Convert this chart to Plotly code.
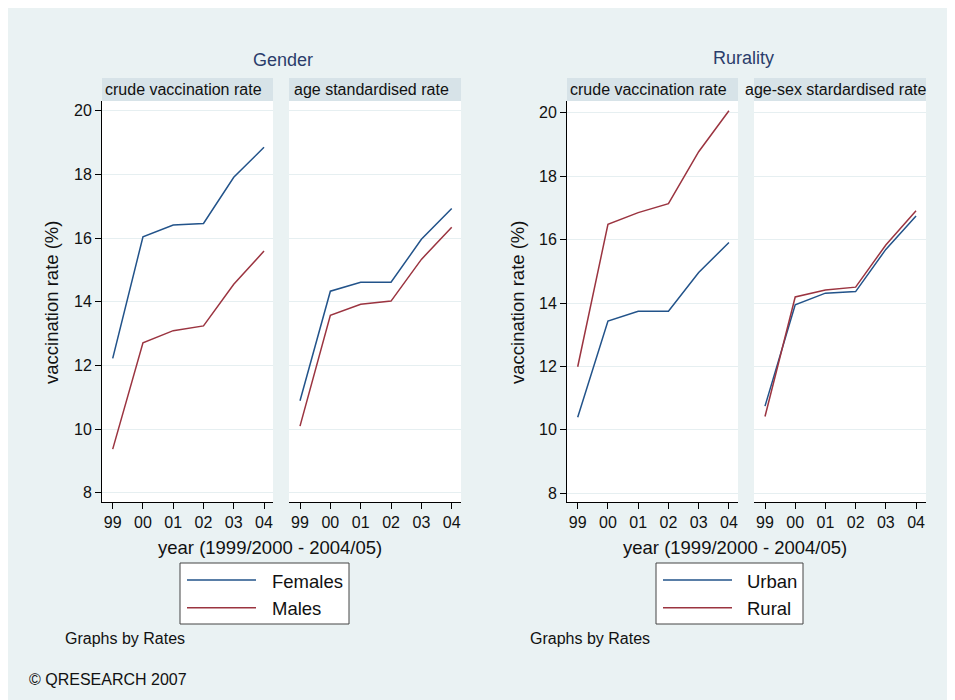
import plotly.graph_objects as go

# ---------------- data ----------------
years = ["99", "00", "01", "02", "03", "04"]
y_ticks = [8, 10, 12, 14, 16, 18, 20]

females_crude = [12.22, 16.04, 16.41, 16.46, 17.91, 18.85]
males_crude = [9.37, 12.71, 13.09, 13.24, 14.55, 15.59]
females_std = [10.89, 14.33, 14.61, 14.61, 15.96, 16.93]
males_std = [10.09, 13.57, 13.92, 14.02, 15.33, 16.34]

urban_crude = [10.40, 13.43, 13.74, 13.74, 14.96, 15.91]
rural_crude = [11.99, 16.48, 16.85, 17.13, 18.77, 20.06]
urban_std = [10.75, 13.94, 14.31, 14.36, 15.69, 16.74]
rural_std = [10.42, 14.19, 14.41, 14.50, 15.83, 16.91]

group_titles = ["Gender", "Rurality"]
strip_labels = ["crude vaccination rate", "age standardised rate",
                "crude vaccination rate", "age-sex stardardised rate"]
legend_left = ["Females", "Males"]
legend_right = ["Urban", "Rural"]
x_title = "year (1999/2000 - 2004/05)"
y_title = "vaccination rate (%)"
note = "Graphs by Rates"
credit = "© QRESEARCH 2007"

# ---------------- style ----------------
W, H = 955, 700
OFF = 8  # page margin around the figure
BG = "#EAF2F3"
STRIP = "#D7E3E8"
GRID = "#E6EFF1"
NAVY = "#22538A"
MAROON = "#9B3440"
TITLE_C = "#2B3D6B"
FONT = "Liberation Sans, Arial, Helvetica, sans-serif"


def px(x):
    return (x - OFF) / W


def py(y):
    return 1 - (y - OFF) / H


panels_x = [(102, 273), (289, 461), (567, 738), (754, 926)]
plot_top, plot_bot = 101, 502
y_ranges = [[7.708, 20.305], [7.708, 20.305], [7.726, 20.369], [7.726, 20.369]]
x_ranges = [[-0.354, 5.297], [-0.363, 5.306], [-0.354, 5.30], [-0.364, 5.33]]

fig = go.Figure()

series = [
    (1, females_crude, NAVY, legend_left[0]), (1, males_crude, MAROON, legend_left[1]),
    (2, females_std, NAVY, legend_left[0]), (2, males_std, MAROON, legend_left[1]),
    (3, urban_crude, NAVY, legend_right[0]), (3, rural_crude, MAROON, legend_right[1]),
    (4, urban_std, NAVY, legend_right[0]), (4, rural_std, MAROON, legend_right[1]),
]
for i, vals, col, name in series:
    sfx = "" if i == 1 else str(i)
    fig.add_trace(go.Scatter(
        x=years, y=vals, mode="lines", name=name, showlegend=False,
        line=dict(color=col, width=1.5),
        xaxis="x" + sfx, yaxis="y" + sfx,
    ))

layout = dict(
    width=W, height=H,
    margin=dict(l=0, r=0, t=0, b=0),
    paper_bgcolor=BG,
    plot_bgcolor="white",
    font=dict(family=FONT, size=16, color="#111"),
    showlegend=False,
)

for k in range(4):
    sfx = "" if k == 0 else str(k + 1)
    x0, x1 = panels_x[k]
    has_y = k in (0, 2)
    layout["xaxis" + sfx] = dict(
        domain=[px(x0), px(x1)], type="category",
        range=x_ranges[k], anchor="y" + sfx,
        showline=True, linecolor="black", linewidth=1,
        ticks="outside", ticklen=6, tickcolor="black", tickwidth=1,
        showgrid=False, zeroline=False,
        tickfont=dict(size=16, color="#111", family=FONT),
    )
    layout["yaxis" + sfx] = dict(
        domain=[py(plot_bot), py(plot_top)], anchor="x" + sfx,
        range=y_ranges[k], tickvals=y_ticks,
        showline=has_y, linecolor="black", linewidth=1,
        ticks="outside" if has_y else "", ticklen=6, tickcolor="black",
        showticklabels=has_y,
        showgrid=True, gridcolor=GRID, gridwidth=1, zeroline=False,
        tickfont=dict(size=16, color="#111", family=FONT),
    )

shapes = []
annotations = []

for k in range(4):
    sfx = "" if k == 0 else str(k + 1)
    shapes.append(dict(type="rect", xref="x" + sfx + " domain", yref="paper",
                       x0=0, x1=1, y0=py(101), y1=py(78),
                       fillcolor=STRIP, line=dict(width=0), layer="below"))
    annotations.append(dict(text=strip_labels[k], xref="x" + sfx + " domain", yref="paper",
                            x=0.5, y=py(90), xshift=-4, showarrow=False,
                            xanchor="center", yanchor="middle",
                            font=dict(size=16, color="#111", family=FONT)))

# group titles
for text, cx, cy in [(group_titles[0], 283, 60.4), (group_titles[1], 743, 57.7)]:
    annotations.append(dict(text=text, xref="paper", yref="paper", x=px(cx), y=py(cy),
                            showarrow=False, xanchor="center", yanchor="middle",
                            font=dict(size=18, color=TITLE_C, family=FONT)))

# axis titles
for cx in (270, 735):
    annotations.append(dict(text=x_title, xref="paper", yref="paper", x=px(cx), y=py(547),
                            showarrow=False, xanchor="center", yanchor="middle",
                            font=dict(size=18.5, color="#111", family=FONT)))
for cx, cy in ((51, 303), (517, 303)):
    annotations.append(dict(text=y_title, xref="paper", yref="paper", x=px(cx), y=py(cy),
                            showarrow=False, xanchor="center", yanchor="middle", textangle=-90,
                            font=dict(size=18.5, color="#111", family=FONT)))

# legends (drawn as boxes)
for (bx0, bx1, lx0, lx1, tx), names in [((180, 349, 187, 256, 270), legend_left),
                                        ((656, 803, 663, 732, 745), legend_right)]:
    shapes.append(dict(type="rect", xref="paper", yref="paper",
                       x0=px(bx0), x1=px(bx1), y0=py(624), y1=py(563),
                       fillcolor="white", line=dict(color="#444", width=1)))
    for name, col, ly, ty in [(names[0], NAVY, 580, 581), (names[1], MAROON, 607.7, 608.7)]:
        shapes.append(dict(type="line", xref="paper", yref="paper",
                           x0=px(lx0), x1=px(lx1), y0=py(ly), y1=py(ly),
                           line=dict(color=col, width=1.5)))
        annotations.append(dict(text=name, xref="paper", yref="paper", x=px(tx), y=py(ty),
                                showarrow=False, xanchor="left", yanchor="middle",
                                font=dict(size=18.5, color="#111", family=FONT)))

for cx in (63, 528):
    annotations.append(dict(text=note, xref="paper", yref="paper", x=px(cx), y=py(638.7),
                            showarrow=False, xanchor="left", yanchor="middle",
                            font=dict(size=16, color="#111", family=FONT)))
annotations.append(dict(text=credit, xref="paper", yref="paper", x=px(26.5), y=py(679.4),
                        showarrow=False, xanchor="left", yanchor="middle",
                        font=dict(size=16, color="#111", family=FONT)))

layout["shapes"] = shapes
layout["annotations"] = annotations
fig.update_layout(**layout)

fig.write_html("out.html")
